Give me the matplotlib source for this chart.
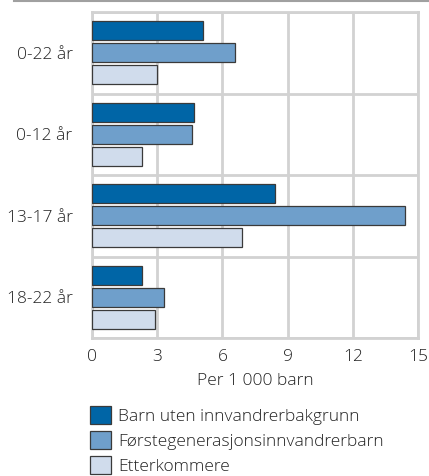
import matplotlib.pyplot as plt
import numpy as np
from matplotlib.patches import Patch
from matplotlib.lines import Line2D

plt.rcParams['font.family'] = ['Open Sans', 'DejaVu Sans']
plt.rcParams['font.weight'] = 'light'
plt.rcParams['axes.labelweight'] = 'light'

# Data
kategorier = ["0-22 år", "0-12 år", "13-17 år", "18-22 år"]
serier = ["Barn uten innvandrerbakgrunn", "Førstegenerasjonsinnvandrerbarn", "Etterkommere"]
uten_bakgrunn = [5.1, 4.7, 8.4, 2.3]
forstegen = [6.6, 4.6, 14.4, 3.3]
etterkommere = [3.0, 2.3, 6.9, 2.9]
farger = ["#0065a6", "#6f9fcb", "#d0dcec"]

fig = plt.figure(figsize=(4.29, 4.76), dpi=100)
ax = fig.add_axes([92/429, 1 - 338/476, 326/429, 326/476])

y = np.arange(len(kategorier))
h = 0.233
step = 0.27
for i, (verdier, farge) in enumerate(zip([uten_bakgrunn, forstegen, etterkommere], farger)):
    ax.barh(y + (i - 1) * step, verdier, height=h, color=farge,
            edgecolor="#3a3a3a", linewidth=0.9, zorder=3)

ax.set_xlim(0, 15)
ax.set_ylim(len(kategorier) - 0.5, -0.5)
ax.set_xticks([0, 3, 6, 9, 12, 15])
ax.set_yticks(y)
ax.set_yticklabels(kategorier)
ax.set_yticks(np.arange(-0.5, len(kategorier)), minor=True)
ax.tick_params(axis="both", which="both", length=0, labelsize=12.5, colors="#222222")
ax.tick_params(axis="x", pad=8)
ax.tick_params(axis="y", pad=14)
ax.grid(axis="x", color="#d2d2d2", linewidth=2, zorder=0)
ax.grid(axis="y", which="minor", color="#d2d2d2", linewidth=2, zorder=0)
for s in ax.spines.values():
    s.set_color("#d2d2d2")
    s.set_linewidth(2)
ax.set_xlabel("Per 1 000 barn", fontsize=12.5, fontweight="light", color="#222222", labelpad=6)

# Topplinje
fig.add_artist(Line2D([14/429, 1], [1 - 1/476, 1 - 1/476], transform=fig.transFigure,
                      color="#a0a0a0", linewidth=1.5))

handles = [Patch(facecolor=f, edgecolor="#3a3a3a", linewidth=0.9, label=s)
           for f, s in zip(farger, serier)]
fig.legend(handles=handles, loc="upper left", bbox_to_anchor=(90/429, 1 - 406/476),
           frameon=False, fontsize=12.5, handlelength=1.2, handleheight=1.2,
           handletextpad=0.4, labelspacing=0.36, borderaxespad=0, borderpad=0,
           labelcolor="#222222")

fig.savefig("out.png", dpi=100)
